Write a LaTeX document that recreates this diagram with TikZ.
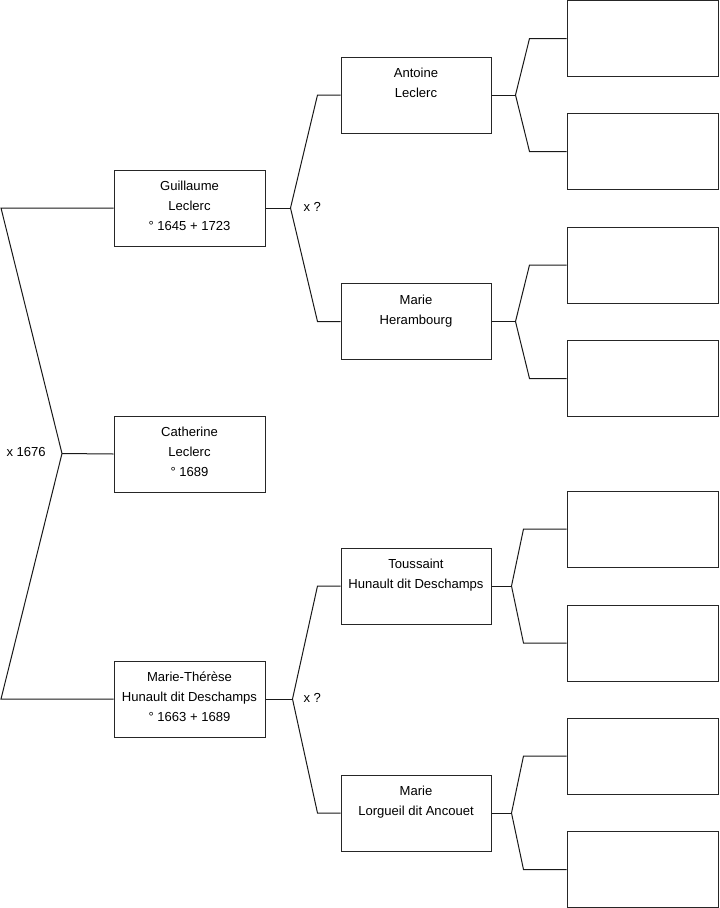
\documentclass[tikz,border=0pt]{standalone}
\usepackage{fontspec}
\setmainfont{Liberation Sans}
\usetikzlibrary{calc}
\tikzset{
  pers/.style={draw=black!85,minimum width=113.25pt,minimum height=57pt,inner sep=0pt,
    align=center,font=\fontsize{9.8}{15}\selectfont,
    execute at end node={\rule[-3pt]{0pt}{0pt}}},
  lbl/.style={anchor=west,inner sep=0pt,font=\fontsize{9.8}{11}\selectfont}
}

\begin{document}
\begin{tikzpicture}[x=0.75pt,y=-0.75pt,line width=0.75pt,draw=black!90]
\useasboundingbox (0,0) rectangle (719,908);
% generation 1
\node[pers] (gui) at (189.5,208) {Guillaume\\Leclerc\\° 1645 + 1723};
\node[pers] (cat) at (189.5,454) {Catherine\\Leclerc\\° 1689};
\node[pers] (mt) at (189.5,699) {Marie-Thérèse\\Hunault dit Deschamps\\° 1663 + 1689};
% generation 2
\node[pers,minimum width=112.5pt] (ant) at (416,95) {Antoine\\Leclerc\\~};
\node[pers,minimum width=112.5pt] (mh) at (416,321.5) {Marie\\Herambourg\\~};
\node[pers,minimum width=112.5pt] (tou) at (416,586) {Toussaint\\Hunault dit Deschamps\\~};
\node[pers,minimum width=112.5pt] (ml) at (416,813) {Marie\\Lorgueil dit Ancouet\\~};
% generation 3 (vides)
\foreach \y [count=\i] in {38.5,151.5,265,378.5,529,643,756,869.5}
  \node[pers] (anc\i) at (642.5,\y) {};
% union des parents
\coordinate (ltop) at (1,208);
\coordinate (lbot) at (1,699);
\coordinate (lv) at (62,453.5);
\draw (gui.west) -- (ltop) -- (lv) -- (lbot) -- (mt.west);
\draw (lv) -- (cat.west);
\node[lbl] (xcat) at (6,452) {x 1676};
% fourches vers les parents
\foreach \c/\p/\m/\d/\e in {gui/ant/mh/25/23, mt/tou/ml/27/23, ant/anc1/anc2/24/37,
    mh/anc3/anc4/24/37, tou/anc5/anc6/20/43, ml/anc7/anc8/20/43}{
  \draw (\c.east) -- ++(\d,0) coordinate (v-\c);
  \draw (\p.west) -- ++(-\e,0) -- (v-\c) -- ($(\m.west)+(-\e,0)$) -- (\m.west);
}
\node[lbl] (xgui) at (303,207) {x ?};
\node[lbl] (xmt) at (303,698) {x ?};
\end{tikzpicture}
\end{document}
